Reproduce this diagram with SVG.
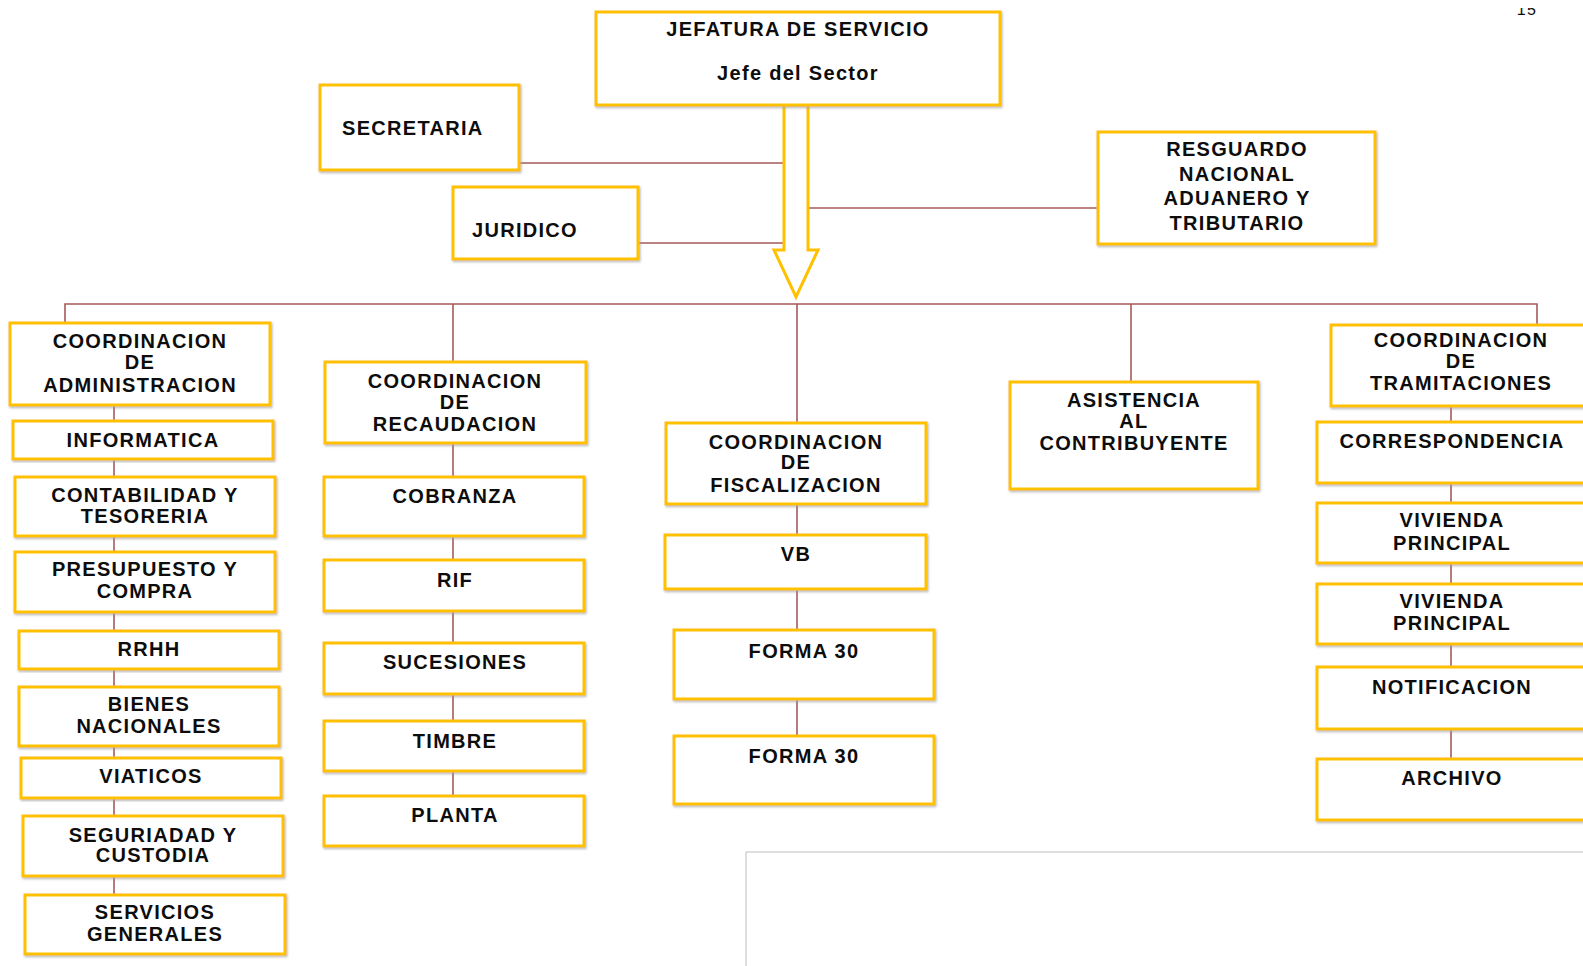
<svg xmlns="http://www.w3.org/2000/svg" width="1583" height="966" viewBox="0 0 1583 966">
<defs>
<style>
.b{fill:#fff;stroke:#FFC000;stroke-width:3;filter:url(#sh)}
.t{font-family:"Liberation Sans",Arial,sans-serif;font-weight:bold;font-size:20px;fill:#0d0d0d;letter-spacing:1.3px;text-anchor:middle}
.l{text-anchor:start}
.c{stroke:#a65a5a;stroke-width:1.6;fill:none}
</style>
<filter id="sh" x="-5%" y="-5%" width="110%" height="115%">
<feDropShadow dx="1" dy="1.5" stdDeviation="0.8" flood-color="#999" flood-opacity="0.7"/>
</filter>
<clipPath id="pg"><rect x="1500" y="8" width="60" height="12"/></clipPath>
</defs>
<rect width="1583" height="966" fill="#fff"/>
<path d="M746,966 V852 H1583" fill="none" stroke="#bdbdbd" stroke-width="1"/>
<text x="1527" y="15" class="t" style="font-size:16px;font-weight:normal" clip-path="url(#pg)">15</text>

<g id="connectors">
<path class="c" d="M519,163 H784"/>
<path class="c" d="M638,243 H784"/>
<path class="c" d="M808,208 H1098"/>
<path class="c" d="M65,323 V304 H1537 V325"/>
<path class="c" d="M453,304 V796"/>
<path class="c" d="M797,304 V736"/>
<path class="c" d="M1131,304 V382"/>
<path class="c" d="M114,405 V895"/>
<path class="c" d="M1451,405 V759"/>
</g>

<g id="arrow">
<polygon points="784,105 808,105 808,250 818,250 796,297 774,250 784,250" fill="#fff" stroke="#FFC000" stroke-width="3" stroke-linejoin="miter"/>
</g>

<g id="jefatura"><rect class="b" x="596" y="12" width="404" height="93"/>
<text class="t" x="798" y="36">JEFATURA DE SERVICIO</text>
<text class="t" x="798" y="80">Jefe del Sector</text></g>

<g id="secretaria"><rect class="b" x="320" y="85" width="199" height="85"/>
<text class="t l" x="342" y="135">SECRETARIA</text></g>

<g id="juridico"><rect class="b" x="453" y="187" width="185" height="72"/>
<text class="t l" x="472" y="237">JURIDICO</text></g>

<g id="resguardo"><rect class="b" x="1098" y="132" width="277" height="112"/>
<text class="t" x="1237" y="156">RESGUARDO</text>
<text class="t" x="1237" y="181">NACIONAL</text>
<text class="t" x="1237" y="205">ADUANERO Y</text>
<text class="t" x="1237" y="230">TRIBUTARIO</text></g>

<g id="coord-admin"><rect class="b" x="10" y="323" width="260" height="82"/>
<text class="t" x="140" y="348">COORDINACION</text>
<text class="t" x="140" y="369">DE</text>
<text class="t" x="140" y="392">ADMINISTRACION</text></g>
<g id="informatica"><rect class="b" x="13" y="421" width="260" height="38"/>
<text class="t" x="143" y="447">INFORMATICA</text></g>
<g id="contabilidad"><rect class="b" x="15" y="477" width="260" height="59"/>
<text class="t" x="145" y="502">CONTABILIDAD Y</text>
<text class="t" x="145" y="523">TESORERIA</text></g>
<g id="presupuesto"><rect class="b" x="15" y="552" width="260" height="60"/>
<text class="t" x="145" y="576">PRESUPUESTO Y</text>
<text class="t" x="145" y="598">COMPRA</text></g>
<g id="rrhh"><rect class="b" x="19" y="631" width="260" height="38"/>
<text class="t" x="149" y="656">RRHH</text></g>
<g id="bienes"><rect class="b" x="19" y="687" width="260" height="59"/>
<text class="t" x="149" y="711">BIENES</text>
<text class="t" x="149" y="733">NACIONALES</text></g>
<g id="viaticos"><rect class="b" x="21" y="758" width="260" height="40"/>
<text class="t" x="151" y="783">VIATICOS</text></g>
<g id="seguridad"><rect class="b" x="23" y="816" width="260" height="60"/>
<text class="t" x="153" y="842">SEGURIADAD Y</text>
<text class="t" x="153" y="862">CUSTODIA</text></g>
<g id="servicios"><rect class="b" x="25" y="895" width="260" height="59"/>
<text class="t" x="155" y="919">SERVICIOS</text>
<text class="t" x="155" y="941">GENERALES</text></g>

<g id="coord-recaudacion"><rect class="b" x="325" y="362" width="261" height="81"/>
<text class="t" x="455" y="388">COORDINACION</text>
<text class="t" x="455" y="409">DE</text>
<text class="t" x="455" y="431">RECAUDACION</text></g>
<g id="cobranza"><rect class="b" x="324" y="477" width="260" height="59"/>
<text class="t" x="455" y="503">COBRANZA</text></g>
<g id="rif"><rect class="b" x="324" y="560" width="260" height="51"/>
<text class="t" x="455" y="587">RIF</text></g>
<g id="sucesiones"><rect class="b" x="324" y="643" width="260" height="51"/>
<text class="t" x="455" y="669">SUCESIONES</text></g>
<g id="timbre"><rect class="b" x="324" y="721" width="260" height="50"/>
<text class="t" x="455" y="748">TIMBRE</text></g>
<g id="planta"><rect class="b" x="324" y="796" width="260" height="50"/>
<text class="t" x="455" y="822">PLANTA</text></g>

<g id="coord-fiscalizacion"><rect class="b" x="666" y="423" width="260" height="81"/>
<text class="t" x="796" y="449">COORDINACION</text>
<text class="t" x="796" y="469">DE</text>
<text class="t" x="796" y="492">FISCALIZACION</text></g>
<g id="vb"><rect class="b" x="665" y="535" width="261" height="54"/>
<text class="t" x="796" y="561">VB</text></g>
<g id="forma30-1"><rect class="b" x="674" y="630" width="260" height="69"/>
<text class="t" x="804" y="658">FORMA 30</text></g>
<g id="forma30-2"><rect class="b" x="674" y="736" width="260" height="68"/>
<text class="t" x="804" y="763">FORMA 30</text></g>

<g id="asistencia"><rect class="b" x="1010" y="382" width="248" height="107"/>
<text class="t" x="1134" y="407">ASISTENCIA</text>
<text class="t" x="1134" y="428">AL</text>
<text class="t" x="1134" y="450">CONTRIBUYENTE</text></g>

<g id="coord-tramitaciones"><rect class="b" x="1331" y="325" width="270" height="81"/>
<text class="t" x="1461" y="347">COORDINACION</text>
<text class="t" x="1461" y="368">DE</text>
<text class="t" x="1461" y="390">TRAMITACIONES</text></g>
<g id="correspondencia"><rect class="b" x="1317" y="422" width="280" height="61"/>
<text class="t" x="1452" y="448">CORRESPONDENCIA</text></g>
<g id="vivienda-1"><rect class="b" x="1317" y="503" width="280" height="60"/>
<text class="t" x="1452" y="527">VIVIENDA</text>
<text class="t" x="1452" y="550">PRINCIPAL</text></g>
<g id="vivienda-2"><rect class="b" x="1317" y="584" width="280" height="60"/>
<text class="t" x="1452" y="608">VIVIENDA</text>
<text class="t" x="1452" y="630">PRINCIPAL</text></g>
<g id="notificacion"><rect class="b" x="1317" y="667" width="280" height="62"/>
<text class="t" x="1452" y="694">NOTIFICACION</text></g>
<g id="archivo"><rect class="b" x="1317" y="759" width="280" height="61"/>
<text class="t" x="1452" y="785">ARCHIVO</text></g>
</svg>
